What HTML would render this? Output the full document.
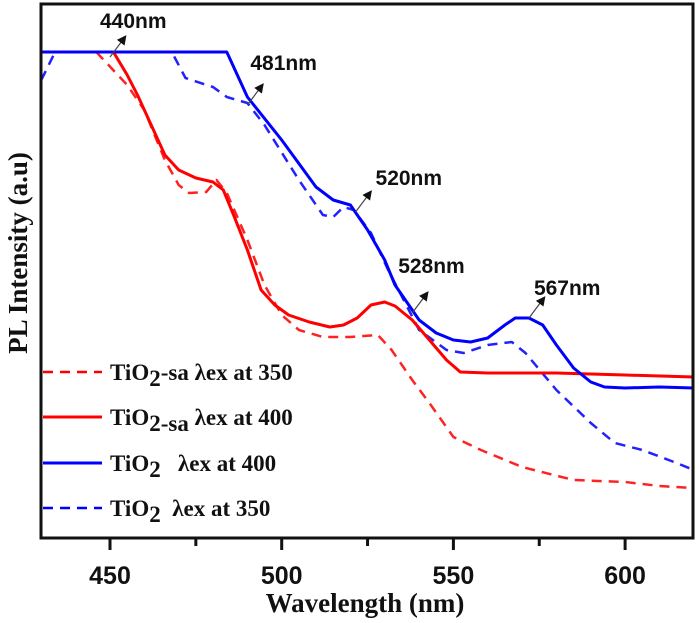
<!DOCTYPE html>
<html><head><meta charset="utf-8"><style>
html,body{margin:0;padding:0;background:#fff;}
svg{display:block;}
.tk{font-family:"Liberation Sans",sans-serif;font-weight:bold;font-size:25px;fill:#111;}
.ann{font-family:"Liberation Sans",sans-serif;font-weight:bold;font-size:21px;fill:#111;}
.lg{font-family:"Liberation Serif",serif;font-weight:bold;font-size:23px;fill:#111;white-space:pre;}
.tt{font-family:"Liberation Serif",serif;font-weight:bold;font-size:27px;fill:#111;}
</style></head><body>
<svg id="chart" width="699" height="623" viewBox="0 0 699 623" xmlns="http://www.w3.org/2000/svg">
<defs><marker id="ar" markerWidth="8" markerHeight="8" refX="6" refY="4" orient="auto"><path d="M0,0 L8,4 L0,8 z" fill="#111"/></marker></defs>
<g id="series"></g>
<rect x="41" y="4" width="652" height="534" fill="none" stroke="#111" stroke-width="3"/>
<g id="xticks"></g>
<text class="tt" x="365" y="612" text-anchor="middle">Wavelength (nm)</text>
<text class="tt" transform="translate(27,253) rotate(-90)" text-anchor="middle">PL Intensity (a.u)</text>
<g id="annots"></g>
<g>
 <line x1="43" y1="372" x2="102" y2="372" stroke="#f00" stroke-width="2.5" stroke-dasharray="10,7"/>
 <text class="lg" x="110" y="380" xml:space="preserve">TiO<tspan dy="6">2</tspan><tspan dy="-6">-sa λex at 350</tspan></text>
 <line x1="43" y1="417" x2="102" y2="417" stroke="#f00" stroke-width="3"/>
 <text class="lg" x="110" y="425" xml:space="preserve">TiO<tspan dy="6">2-sa</tspan><tspan dy="-6"> λex at 400</tspan></text>
 <line x1="43" y1="463" x2="102" y2="463" stroke="#00f" stroke-width="3"/>
 <text class="lg" x="110" y="471" xml:space="preserve">TiO<tspan dy="6">2</tspan><tspan dy="-6">   λex at 400</tspan></text>
 <line x1="43" y1="508" x2="102" y2="508" stroke="#00f" stroke-width="2.5" stroke-dasharray="10,7"/>
 <text class="lg" x="110" y="516" xml:space="preserve">TiO<tspan dy="6">2</tspan><tspan dy="-6">  λex at 350</tspan></text>
</g>
</svg>
<script>
const xTicks = [450, 500, 550, 600];
const xMinorTicks = [475, 525, 575];
const blueSolidW = [430,484,490,500,510,515,520,525,530,533,537,540,545,550,555,560,565,568,572,576,580,585,590,594,600,610,620];
const blueSolidV = [486,486,441,398,351,338,333,308,278,253,233,218,205,198,196,200,213,220,220,213,193,170,156,151,150,151,150];
const redSolidW = [451,455,458,462,466,470,475,480,483,486,490,494,498,502,508,514,518,522,526,530,533,538,543,548,552,560,580,600,620];
const redSolidV = [486,463,443,413,383,368,360,356,348,323,288,248,233,223,216,211,213,220,233,236,232,218,198,178,166,165,165,163,161];
const redDashW = [446,449,455,460,466,470,473,478,481,484,490,495,500,505,512,520,528,532,538,543,550,558,570,585,600,610,620];
const redDashV = [486,475,453,428,378,353,345,346,358,345,298,253,223,208,201,201,203,188,158,135,101,88,71,58,56,52,50];
const blueDashW = [430,434,468,472,480,484,490,495,505,512,515,518,521,526,531,540,548,553,560,567,571,580,590,597,605,615,620];
const blueDashV = [458,486,486,460,451,441,435,413,358,323,321,331,328,305,268,208,188,185,193,196,185,148,115,95,88,75,68];
const annLabels = ["440nm","481nm","520nm","528nm","567nm"];
const annW = [450, 490, 521.5, 538, 572];
const annV = [481, 433, 326, 225, 220];
// label layout offsets (pixels, not data)
const annDx = [-10, 3, 20, -14, 5];
const annDy = [-29, -35, -27, -40, -23];

const xs = w => 110 + (w - 450) * 3.434;
const ys = v => 538 - v;
const NS = "http://www.w3.org/2000/svg";

const sg = document.getElementById('series');
function drawSeries(W, V, color, dash, name) {
  const p = document.createElementNS(NS, 'path');
  let d = '';
  for (let i = 0; i < W.length; i++) d += (i ? 'L' : 'M') + xs(W[i]).toFixed(1) + ',' + ys(V[i]).toFixed(1);
  p.setAttribute('d', d);
  p.setAttribute('fill', 'none');
  p.setAttribute('stroke', color);
  p.setAttribute('stroke-width', dash ? 2.5 : 3);
  p.setAttribute('stroke-linejoin', 'round');
  if (dash) p.setAttribute('stroke-dasharray', '10,7');
  
  
  sg.appendChild(p);
}
drawSeries(redDashW, redDashV, '#f22', true, 'series-tio2-sa-350');
drawSeries(blueDashW, blueDashV, '#22f', true, 'series-tio2-350');
drawSeries(redSolidW, redSolidV, '#f00', false, 'series-tio2-sa-400');
drawSeries(blueSolidW, blueSolidV, '#00f', false, 'series-tio2-400');

const xg = document.getElementById('xticks');
xTicks.forEach(t => {
  const l = document.createElementNS(NS, 'line');
  l.setAttribute('x1', xs(t)); l.setAttribute('x2', xs(t));
  l.setAttribute('y1', 538); l.setAttribute('y2', 550);
  l.setAttribute('stroke', '#111'); l.setAttribute('stroke-width', 3);
  
  
  xg.appendChild(l);
  const tx = document.createElementNS(NS, 'text');
  tx.setAttribute('x', xs(t)); tx.setAttribute('y', 584);
  tx.setAttribute('text-anchor', 'middle'); tx.setAttribute('class', 'tk');
  tx.textContent = t;
  
  
  xg.appendChild(tx);
});
xMinorTicks.forEach(t => {
  const l = document.createElementNS(NS, 'line');
  l.setAttribute('x1', xs(t)); l.setAttribute('x2', xs(t));
  l.setAttribute('y1', 538); l.setAttribute('y2', 546);
  l.setAttribute('stroke', '#111'); l.setAttribute('stroke-width', 3);
  
  
  xg.appendChild(l);
});

const ag = document.getElementById('annots');
annLabels.forEach((lab, i) => {
  const x0 = xs(annW[i]), y0 = ys(annV[i]);
  const l = document.createElementNS(NS, 'line');
  l.setAttribute('x1', x0); l.setAttribute('y1', y0);
  l.setAttribute('x2', x0 + 15); l.setAttribute('y2', y0 - 20);
  l.setAttribute('stroke', '#444'); l.setAttribute('stroke-width', 1.2);
  l.setAttribute('marker-end', 'url(#ar)');
  
  
  ag.appendChild(l);
  const t = document.createElementNS(NS, 'text');
  t.setAttribute('x', x0 + annDx[i]); t.setAttribute('y', y0 + annDy[i]);
  t.setAttribute('class', 'ann');
  t.textContent = lab;
  
  
  ag.appendChild(t);
});
</script>
</body></html>
